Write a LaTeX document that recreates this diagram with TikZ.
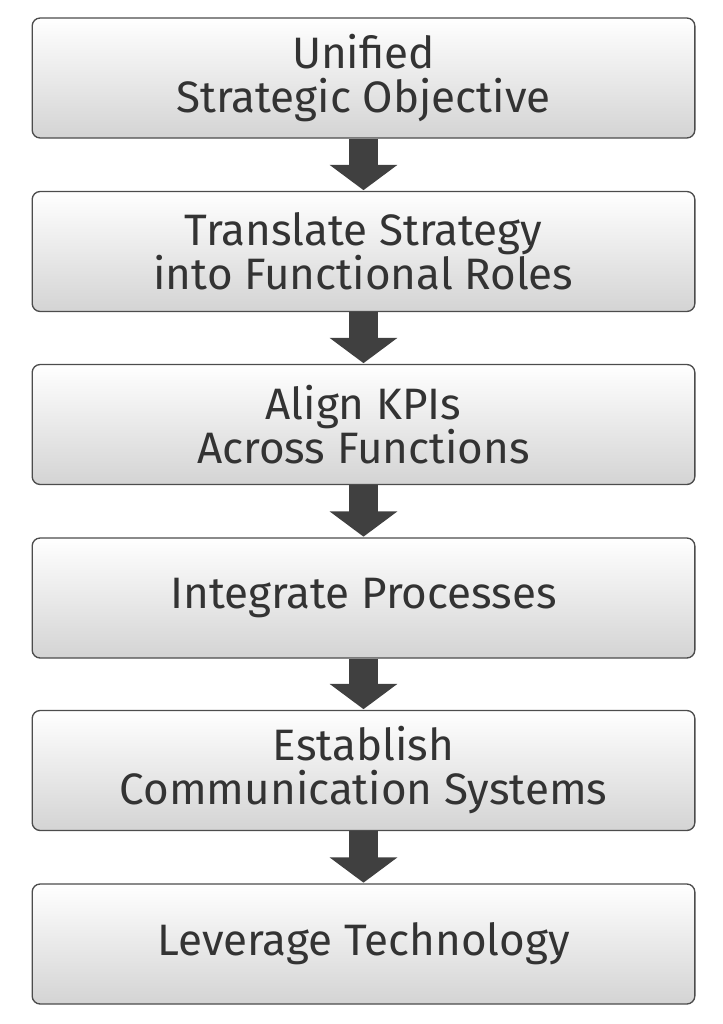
\documentclass[tikz,border=0pt]{standalone}
\usepackage{fontspec}
\setmainfont{Fira Sans}
\usetikzlibrary{arrows.meta,positioning}
\tikzset{every picture/.style={line width=0.75pt}}
\tikzset{
  stage/.style={draw=black!70, line width=1pt, rounded corners=6pt,
    top color=white, bottom color=black!17, minimum width=497pt, minimum height=90pt,
    align=center, font=\fontsize{33}{33}\selectfont\color{black!80}},
  flow/.style={draw=black!75, line width=22pt, -{Triangle[length=19pt,width=50pt]}, shorten >=0.5pt}
}
\begin{document}
\begin{tikzpicture}[x=0.75pt,y=0.75pt,yscale=-1,xscale=1]

\useasboundingbox (0,0) rectangle (722,1024);

\node [stage] (objective) at (363.5,78) {Unified\\Strategic Objective};
\node [stage] (translate) at (363.5,251.5) {Translate Strategy\\into Functional Roles};
\node [stage] (align) at (363.5,424.5) {Align KPIs\\Across Functions};
\node [stage] (integrate) at (363.5,598) {Integrate Processes};
\node [stage] (establish) at (363.5,770.5) {Establish\\Communication Systems};
\node [stage] (leverage) at (363.5,944) {Leverage Technology};

\draw [flow] (objective) -- (translate);
\draw [flow] (translate) -- (align);
\draw [flow] (align) -- (integrate);
\draw [flow] (integrate) -- (establish);
\draw [flow] (establish) -- (leverage);

\end{tikzpicture}
\end{document}
